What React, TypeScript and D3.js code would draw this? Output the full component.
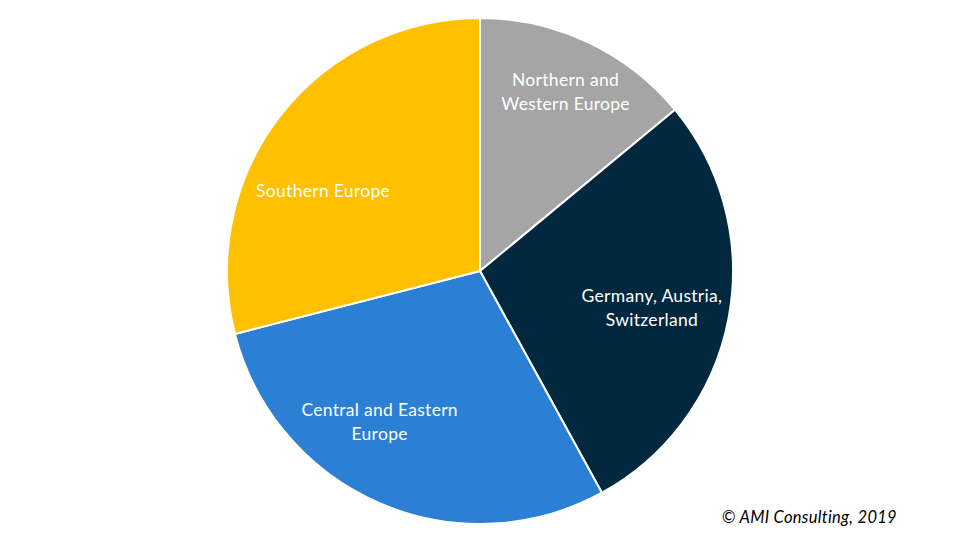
import {useEffect, useRef} from "react"

import * as d3 from "d3"

const regions = [
  "Northern and Western Europe",
  "Germany, Austria, Switzerland",
  "Central and Eastern Europe",
  "Southern Europe",
]
const shares = [14, 28, 29, 29]
const labelLines = [
  ["Northern and", "Western Europe"],
  ["Germany, Austria,", "Switzerland"],
  ["Central and Eastern", "Europe"],
  ["Southern Europe"],
]
const colors = ["#A5A5A5", "#022840", "#2B7FD5", "#FFC000"]
// nudges to mimic where the office tool put the labels
const labelNudge = [
  [8, -14],
  [-7, 3],
  [-28, -16],
  [-13, 32],
]
const source = "© AMI Consulting, 2019"

const width = 960
const height = 540
const cx = 480
const cy = 271
const radius = 253

const App = (): JSX.Element => {
  const ref = useRef<SVGSVGElement>(null)

  useEffect(() => {
    document.body.style.margin = "0"
    const svg = d3.select(ref.current)
    svg.selectAll("*").remove()

    const data = regions.map((name, i) => ({name, value: shares[i], i}))
    const pie = d3
      .pie<{name: string; value: number; i: number}>()
      .value((d) => d.value)
      .sort(null)
    const arcs = pie(data)

    const arc = d3.arc<any>().innerRadius(0).outerRadius(radius)
    const labelArc = d3
      .arc<any>()
      .innerRadius(radius * 0.72)
      .outerRadius(radius * 0.72)

    const g = svg.append("g").attr("transform", `translate(${cx},${cy})`)

    g.selectAll("path")
      .data(arcs)
      .join("path")
      .attr("d", arc)
      .attr("fill", (d) => colors[d.data.i])
      .attr("stroke", "#ffffff")
      .attr("stroke-width", 2)
      .attr("stroke-linejoin", "round")

    arcs.forEach((d) => {
      const [x, y] = labelArc.centroid(d)
      const [nx, ny] = labelNudge[d.data.i]
      const lines = labelLines[d.data.i]
      const text = g
        .append("text")
        .attr("text-anchor", "middle")
        .attr("fill", "#ffffff")
        .attr("font-family", "Lato, 'Open Sans', sans-serif")
        .attr("font-size", 17.5)
        .attr("letter-spacing", 0.3)
      lines.forEach((line, k) => {
        text
          .append("tspan")
          .attr("x", x + nx)
          .attr("y", y + ny + (k - (lines.length - 1) / 2) * 24 + 6)
          .text(line)
      })
    })

    svg
      .append("text")
      .attr("x", 897)
      .attr("y", 523)
      .attr("text-anchor", "end")
      .attr("font-family", "Lato, 'Open Sans', sans-serif")
      .attr("font-style", "italic")
      .attr("font-size", 16.5)
      .attr("letter-spacing", 0.3)
      .attr("fill", "#000000")
      .text(source)
  }, [])

  return (
    <svg
      ref={ref}
      width={width}
      height={height}
      style={{display: "block", background: "#ffffff"}}
    />
  )
}

export default App
